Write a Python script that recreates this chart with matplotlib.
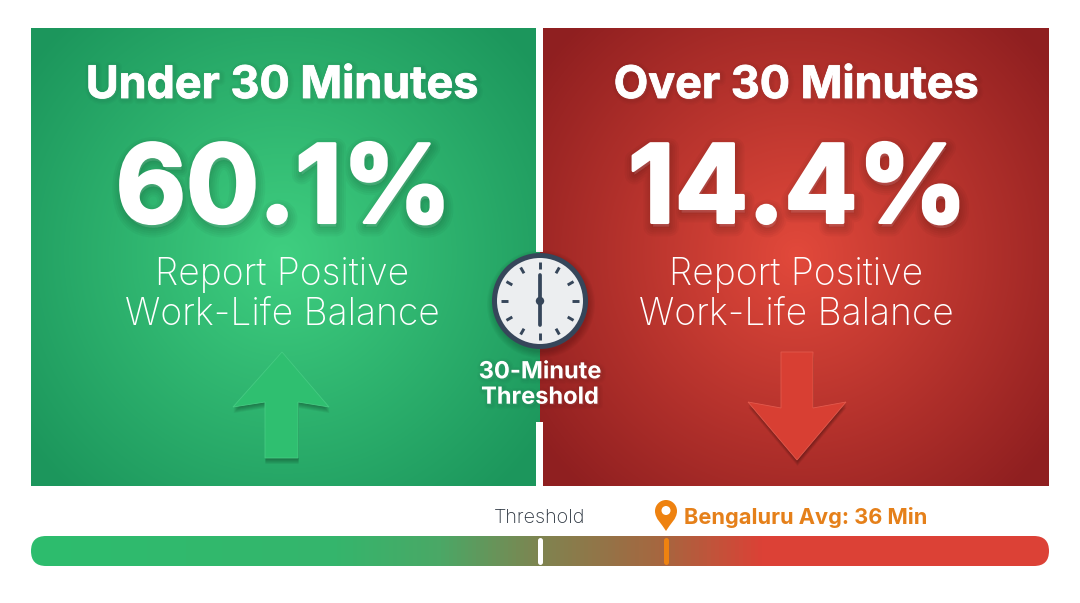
import numpy as np
import matplotlib
matplotlib.use('Agg')
import matplotlib.pyplot as plt
import matplotlib.patheffects as pe
from matplotlib.colors import LinearSegmentedColormap
from matplotlib.patches import Circle, FancyBboxPatch, PathPatch, Polygon, Rectangle
from matplotlib.path import Path

# values
panel_titles = ['Under 30 Minutes', 'Over 30 Minutes']
panel_values = [60.1, 14.4]
panel_caption = 'Report Positive\nWork-Life Balance'
threshold_min = 30
bengaluru_min = 36
scale_range = [5.76, 54.24]
clock_label = '30-Minute\nThreshold'
threshold_label = 'Threshold'
bengaluru_label = f'Bengaluru Avg: {bengaluru_min} Min'

W, H = 1080, 603
BOLD = 'Inter'

fig = plt.figure(figsize=(W / 100, H / 100), dpi=100, facecolor='white')
ax = fig.add_axes([0, 0, 1, 1])
ax.set_xlim(0, W)
ax.set_ylim(H, 0)
ax.axis('off')


def radial_panel(x0, x1, y0, y1, cx, cy, inner, outer):
    # radial glow from the middle of the panel to the dark edges
    xs = np.arange(x0, x1) + 0.5
    ys = np.arange(y0, y1) + 0.5
    xx, yy = np.meshgrid(xs, ys)
    r = np.clip(np.hypot((xx - cx) / 320, (yy - cy) / 320), 0, 1)
    cmap = LinearSegmentedColormap.from_list('panel', [inner, outer])
    ax.imshow(r, extent=[x0, x1, y1, y0], cmap=cmap, vmin=0, vmax=1,
              aspect='auto', zorder=1, interpolation='bilinear')


radial_panel(31, 540, 28, 486, 283, 255, '#3fcf80', '#1c965c')
radial_panel(540, 1049, 28, 486, 797, 255, '#e2493b', '#8f1f20')
ax.set_xlim(0, W)
ax.set_ylim(H, 0)

# white divider, broken behind the clock and its label
ax.add_patch(Rectangle((536, 28), 7, 224, color='white', lw=0, zorder=2))
ax.add_patch(Rectangle((536, 422), 7, 64, color='white', lw=0, zorder=2))


def soft_shadow(dx=1, dy=-3, alpha=0.03, widths=(14, 11, 8, 5, 2), grow=0):
    effects = []
    for w in widths:
        effects.append(pe.Stroke(linewidth=w, foreground='black', alpha=alpha, offset=(dx, dy)))
    if grow:
        effects.append(pe.Stroke(linewidth=grow, foreground='white'))
    effects.append(pe.Normal())
    return effects


centres = [283, 797]
for cx, title, value in zip(centres, panel_titles, panel_values):
    ax.text(cx - 1, 86, title, color='white', fontsize=32.3, family=BOLD, weight='bold',
            ha='center', va='center', zorder=5,
            path_effects=soft_shadow(1, -1, 0.018, (7, 5, 3), grow=0.6))
    ax.text(cx + 1, 194, f'{value}%', color='white', fontsize=78, family=BOLD, weight='bold',
            ha='center', va='center', zorder=5, path_effects=soft_shadow(grow=2.2))
    ax.text(cx - 1, 295, panel_caption, color='white', fontsize=26.8, family=BOLD, weight='light',
            ha='center', va='center', linespacing=1.17, zorder=5)

# arrows
up_arrow = [(282, 352), (329, 407), (298, 402), (298, 458), (265, 458), (265, 402), (233, 407)]
down_arrow = [(781, 352), (813, 352), (813, 408), (846, 402), (797, 460), (748, 402), (781, 408)]
for pts, fill, edge in [(up_arrow, '#2fbf70', '#45cb82'), (down_arrow, '#d83f33', '#e35a4d')]:
    for k in range(6):
        shadow = Polygon([(x + 0.5, y + 1 + k) for x, y in pts], closed=True, facecolor='black',
                         edgecolor='none', alpha=0.06, zorder=3)
        ax.add_patch(shadow)
    ax.add_patch(Polygon(pts, closed=True, facecolor=fill, edgecolor=edge, lw=0.6, zorder=4))

# clock
cx, cy = 540, 301
for k in range(6):
    ax.add_patch(Circle((cx + 1, cy + 3), 48 + k * 1.2, color='black', alpha=0.03, lw=0, zorder=5))
ax.add_patch(Circle((cx, cy), 48, color='#36465a', lw=0, zorder=6))
ax.add_patch(Circle((cx, cy), 43, color='#eceef0', lw=0, zorder=6))
for i in range(12):
    a = np.radians(i * 30)
    ax.plot([cx + 32 * np.sin(a), cx + 38.7 * np.sin(a)], [cy - 32 * np.cos(a), cy - 38.7 * np.cos(a)],
            color='#36465a', lw=2.1, solid_capstyle='butt', zorder=7)
ax.plot([cx, cx], [cy, cy - 26], color='#36465a', lw=2.7, solid_capstyle='round', zorder=7)
ax.plot([cx, cx], [cy, cy + 24], color='#36465a', lw=2.7, solid_capstyle='round', zorder=7)
ax.add_patch(Circle((cx, cy), 4.2, color='#36465a', lw=0, zorder=8))
ax.text(540, 385, clock_label, color='white', fontsize=17, family=BOLD, weight='bold', ha='center',
        va='center', linespacing=1.2, zorder=8, path_effects=soft_shadow(1, -1, 0.02, (6, 4, 2)))

# gradient bar
bar_cmap = LinearSegmentedColormap.from_list(
    'bar', [(0, '#2dbd6e'), (0.30, '#35b56c'), (0.40, '#4aa866'), (0.50, '#7f8450'), (0.624, '#a8653f'),
            (0.72, '#dc4136'), (1, '#dc4136')])
im = ax.imshow(np.linspace(0, 1, 1018).reshape(1, -1), extent=[31, 1049, 566, 536], cmap=bar_cmap,
               aspect='auto', zorder=2)
bar_shape = FancyBboxPatch((46, 536 + 15), 988, 0, boxstyle='round,pad=15,rounding_size=15',
                           transform=ax.transData, facecolor='none', edgecolor='none')
ax.add_patch(bar_shape)
im.set_clip_path(bar_shape)
ax.set_xlim(0, W)
ax.set_ylim(H, 0)

# markers on the bar use a minutes axis laid exactly over it
bar_ax = fig.add_axes([31 / W, 1 - 566 / H, 1018 / W, 30 / H], facecolor='none')
bar_ax.set_xlim(*scale_range)
bar_ax.set_ylim(0, 1)
bar_ax.axis('off')
bar_ax.plot([threshold_min] * 2, [0.13, 0.87], color='white', lw=3.6, solid_capstyle='round')
bar_ax.plot([bengaluru_min] * 2, [0.13, 0.87], color='#ee8210', lw=3.6, solid_capstyle='round')

ax.text(540, 518, threshold_label, color='#2c3540', fontsize=14.3, family=BOLD, weight='light',
        ha='center', va='center', zorder=5)
ax.text(684, 517, bengaluru_label, color='#e5801a', fontsize=15.7, family=BOLD, weight='bold',
        ha='left', va='center', zorder=5)

# map pin
pin = Path([(666, 531), (662, 524), (655, 519), (655, 511), (655, 505), (660, 500), (666, 500),
            (672, 500), (677, 505), (677, 511), (677, 519), (670, 524), (666, 531)],
           [Path.MOVETO, Path.CURVE4, Path.CURVE4, Path.CURVE4, Path.CURVE4, Path.CURVE4, Path.CURVE4,
            Path.CURVE4, Path.CURVE4, Path.CURVE4, Path.CURVE4, Path.CURVE4, Path.CURVE4])
ax.add_patch(PathPatch(pin, facecolor='#ee8210', edgecolor='none', zorder=5))
ax.add_patch(Circle((666, 510.5), 4.5, color='white', lw=0, zorder=6))

fig.savefig('out.png', dpi=100)
